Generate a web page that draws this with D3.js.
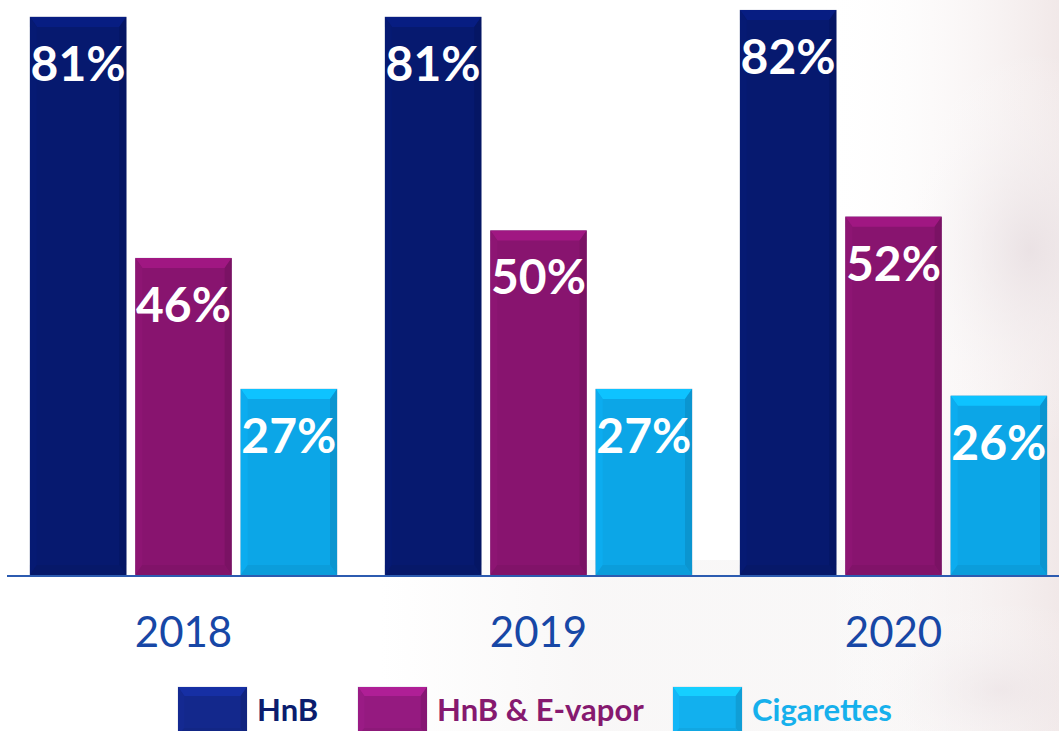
<!DOCTYPE html>
<html>
<head>
<meta charset="utf-8">
<script src="https://cdn.jsdelivr.net/npm/d3@7"></script>
<style>
  html, body { margin: 0; padding: 0; background: #ffffff; }
  svg { display: block; }
</style>
</head>
<body>
<svg id="chart" width="1059" height="731"></svg>
<script>
// Share of users per year, by product type
const years = ["2018", "2019", "2020"];
const seriesNames = ["HnB", "HnB & E-vapor", "Cigarettes"];
const hnb = [81, 81, 82];
const hnbVapor = [46, 50, 52];
const cigarettes = [27, 27, 26];

const barColors = ["#06196f", "#88146f", "#0ca6e7"];
const swatchColors = ["#13288c", "#951a80", "#12b0ee"];
const legendText = ["#0b1d6e", "#86196f", "#16b0ec"];

const values = [hnb, hnbVapor, cigarettes];
const rows = years.map((y, i) => ({
  year: y,
  bars: seriesNames.map((s, j) => ({ series: s, idx: j, value: values[j][i] }))
}));

const svg = d3.select("#chart");
const W = 1059, H = 731;
const baseY = 575;

// Soft background wash toward the right edge
const defs = svg.append("defs");
const bg1 = defs.append("radialGradient").attr("id", "wash1")
  .attr("cx", 0.5).attr("cy", 0.5).attr("r", 0.5);
bg1.append("stop").attr("offset", "0%").attr("stop-color", "#e8dfe2").attr("stop-opacity", 0.8);
bg1.append("stop").attr("offset", "100%").attr("stop-color", "#ffffff").attr("stop-opacity", 0);
const bg2 = defs.append("linearGradient").attr("id", "wash2")
  .attr("x1", 0).attr("x2", 1).attr("y1", 0).attr("y2", 0);
bg2.append("stop").attr("offset", "0%").attr("stop-color", "#ffffff").attr("stop-opacity", 0);
bg2.append("stop").attr("offset", "100%").attr("stop-color", "#f1e8e8").attr("stop-opacity", 1);
const bg3 = defs.append("linearGradient").attr("id", "wash3")
  .attr("x1", 0).attr("x2", 1).attr("y1", 0).attr("y2", 0);
bg3.append("stop").attr("offset", "0%").attr("stop-color", "#f6f4f4").attr("stop-opacity", 0);
bg3.append("stop").attr("offset", "30%").attr("stop-color", "#f6f4f4").attr("stop-opacity", 0.7);
bg3.append("stop").attr("offset", "100%").attr("stop-color", "#f6f4f4").attr("stop-opacity", 0.7);

svg.append("rect").attr("width", W).attr("height", H).attr("fill", "#ffffff");
svg.append("rect").attr("x", 380).attr("y", 560).attr("width", 679).attr("height", 171).attr("fill", "url(#wash3)");
svg.append("rect").attr("x", 820).attr("y", 0).attr("width", 239).attr("height", H).attr("fill", "url(#wash2)");
svg.append("ellipse").attr("cx", 1030).attr("cy", 250).attr("rx", 140).attr("ry", 200).attr("fill", "url(#wash1)");
svg.append("ellipse").attr("cx", 1000).attr("cy", 690).attr("rx", 160).attr("ry", 90).attr("fill", "url(#wash1)").attr("opacity", 0.6);

// Scales
const x0 = d3.scaleBand().domain(years).range([6, 1071]).paddingInner(0.135).paddingOuter(0.0675);
const x1 = d3.scaleBand().domain(seriesNames).range([0, x0.bandwidth()]).paddingInner(0.086).paddingOuter(0);
const y = d3.scaleLinear().domain([0, 82]).range([baseY, 10]);

// Draws a bevelled rectangle: flat face plus four softly lit/shaded edges
function bevel(g, x, yTop, w, h, color, b) {
  const c = d3.color(color);
  g.append("rect").attr("x", x).attr("y", yTop).attr("width", w).attr("height", h)
    .attr("fill", color).attr("stroke", "#9aa0b8").attr("stroke-width", 0.6).attr("stroke-opacity", 0.5);
  const bt = Math.min(b, h / 2);
  const bs = Math.min(b * 0.7, h / 2);
  const pts = (arr) => arr.map(p => p.join(",")).join(" ");
  // top
  g.append("polygon").attr("points", pts([[x, yTop], [x + w, yTop], [x + w - bs, yTop + bt], [x + bs, yTop + bt]]))
    .attr("fill", c.brighter(0.45).formatHex());
  // left
  g.append("polygon").attr("points", pts([[x, yTop], [x + bs, yTop + bt], [x + bs, yTop + h - bt], [x, yTop + h]]))
    .attr("fill", c.brighter(0.1).formatHex());
  // right
  g.append("polygon").attr("points", pts([[x + w, yTop], [x + w, yTop + h], [x + w - bs, yTop + h - bt], [x + w - bs, yTop + bt]]))
    .attr("fill", c.darker(0.3).formatHex());
  // bottom
  g.append("polygon").attr("points", pts([[x, yTop + h], [x + bs, yTop + h - bt], [x + w - bs, yTop + h - bt], [x + w, yTop + h]]))
    .attr("fill", c.darker(0.15).formatHex());
}

// Bars
const groups = svg.selectAll("g.year").data(rows).enter().append("g")
  .attr("class", "year")
  .attr("transform", d => `translate(${x0(d.year)},0)`);

groups.each(function (d) {
  const g = d3.select(this);
  d.bars.forEach(b => {
    const bx = x1(b.series);
    const top = y(b.value);
    bevel(g, bx, top, x1.bandwidth(), baseY - top, barColors[b.idx], 10);
    g.append("text")
      .attr("x", bx + x1.bandwidth() / 2)
      .attr("y", top + 64)
      .attr("text-anchor", "middle")
      .attr("font-family", "Lato, sans-serif")
      .attr("font-weight", 700)
      .attr("font-size", 48)
      .attr("fill", "#ffffff")
      .text(b.value + "%");
  });
});

// Baseline
svg.append("line").attr("x1", 7).attr("x2", W).attr("y1", baseY + 1).attr("y2", baseY + 1)
  .attr("stroke", "#2c5bb0").attr("stroke-width", 2);

// Category labels
const xAxis = d3.axisBottom(x0).tickSize(0).tickPadding(0);
const axisG = svg.append("g").attr("transform", `translate(0,${baseY})`).call(xAxis);
axisG.select(".domain").remove();
axisG.selectAll("text")
  .attr("y", 72)
  .attr("dy", 0)
  .attr("font-family", "Lato, sans-serif")
  .attr("font-size", 42)
  .attr("fill", "#1747a6");

// Legend
const legendX = [178, 358, 673];
const leg = svg.selectAll("g.legend").data(seriesNames).enter().append("g")
  .attr("class", "legend")
  .attr("transform", (d, i) => `translate(${legendX[i]},687)`);
leg.each(function (d, i) {
  const g = d3.select(this);
  bevel(g, 0, 0, 69, 50, swatchColors[i], 9);
  g.append("text")
    .attr("x", 79)
    .attr("y", 34)
    .attr("font-family", "Lato, sans-serif")
    .attr("font-weight", 700)
    .attr("font-size", 31)
    .attr("fill", legendText[i])
    .text(d);
});
</script>
</body>
</html>
